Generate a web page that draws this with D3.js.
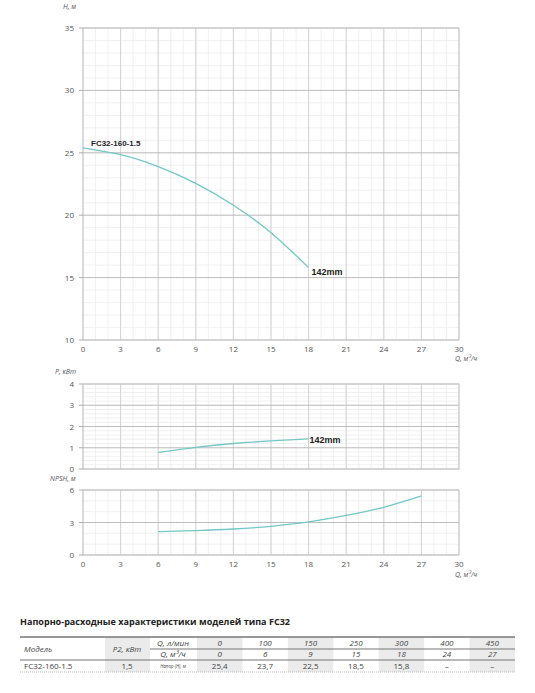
<!DOCTYPE html>
<html lang="ru">
<head>
<meta charset="UTF-8">
<title>FC32-160-1.5</title>
<script src="https://d3js.org/d3.v7.min.js"></script>
<style>
  body { margin: 0; background: #fff; }
  svg { display: block; font-family: "Open Sans", sans-serif; }
  .tick-lbl { font-size: 8px; fill: #555; }
  .ax-title { font-size: 7px; font-style: italic; fill: #555; }
  .tag { font-family: "Liberation Sans", Arial, sans-serif; font-weight: bold; font-size: 9px; fill: #222; }
  .tbl { font-size: 8px; fill: #444; }
</style>
</head>
<body>
<div id="chart"></div>
<script>
// --- data ---
const qTicks = [0, 3, 6, 9, 12, 15, 18, 21, 24, 27, 30];

const headQ = [0, 3, 6, 9, 12, 15, 18];
const headH = [25.4, 24.85, 23.9, 22.55, 20.8, 18.6, 15.8];

const powerQ = [6, 9, 12, 15, 18];
const powerP = [0.78, 1.02, 1.2, 1.32, 1.42];

const npshQ = [6, 9, 12, 15, 18, 21, 24, 27];
const npshV = [2.15, 2.25, 2.4, 2.65, 3.05, 3.65, 4.4, 5.45];

const tableQlmin = ["0", "100", "150", "250", "300", "400", "450"];
const tableQm3 = ["0", "6", "9", "15", "18", "24", "27"];
const tableHead = ["25,4", "23,7", "22,5", "18,5", "15,8", "–", "–"];

const W = 535, H = 693;
const curveColor = "#74c7c7";

const svg = d3.select("#chart").append("svg")
  .attr("width", W).attr("height", H);

const x = d3.scaleLinear().domain([0, 30]).range([83, 459]);

// draws one panel: grid, border, y ticks
function panel(y, yMajor, yMinorStep, showX) {
  const g = svg.append("g");
  const [y0, y1] = y.domain();
  const top = y(y1), bottom = y(y0);
  // minor grid
  d3.range(0, 30.001, 1).forEach(v => {
    g.append("line").attr("x1", x(v)).attr("x2", x(v)).attr("y1", top).attr("y2", bottom)
      .attr("stroke", "#ececec").attr("stroke-width", 0.8);
  });
  d3.range(y0, y1 + 1e-6, yMinorStep).forEach(v => {
    g.append("line").attr("x1", x(0)).attr("x2", x(30)).attr("y1", y(v)).attr("y2", y(v))
      .attr("stroke", "#ececec").attr("stroke-width", 0.8);
  });
  // major grid
  qTicks.forEach(v => {
    g.append("line").attr("x1", x(v)).attr("x2", x(v)).attr("y1", top).attr("y2", bottom)
      .attr("stroke", "#cfcfcf").attr("stroke-width", 0.9);
  });
  yMajor.forEach(v => {
    g.append("line").attr("x1", x(0)).attr("x2", x(30)).attr("y1", y(v)).attr("y2", y(v))
      .attr("stroke", "#b8b8b8").attr("stroke-width", 0.9);
  });
  g.append("rect").attr("x", x(0)).attr("y", top).attr("width", x(30) - x(0)).attr("height", bottom - top)
    .attr("fill", "none").attr("stroke", "#cccccc").attr("stroke-width", 0.9);
  // y ticks
  yMajor.forEach(v => {
    g.append("line").attr("x1", x(0) - 4).attr("x2", x(0)).attr("y1", y(v)).attr("y2", y(v))
      .attr("stroke", "#999").attr("stroke-width", 0.8);
    g.append("text").attr("class", "tick-lbl").attr("x", x(0) - 9).attr("y", y(v) + 3)
      .attr("text-anchor", "end").text(v);
  });
  if (showX) {
    qTicks.forEach(v => {
      g.append("text").attr("class", "tick-lbl").attr("x", x(v)).attr("y", bottom + 12)
        .attr("text-anchor", "middle").text(v);
    });
  }
  return g;
}

function drawCurve(y, qs, vs) {
  const line = d3.line().x(d => x(d[0])).y(d => y(d[1])).curve(d3.curveNatural);
  svg.append("path").attr("d", line(d3.zip(qs, vs)))
    .attr("fill", "none").attr("stroke", curveColor).attr("stroke-width", 1.3);
}

// --- head chart ---
const yH = d3.scaleLinear().domain([10, 35]).range([340, 28]);
panel(yH, [10, 15, 20, 25, 30, 35], 1, true);
drawCurve(yH, headQ, headH);
svg.append("text").attr("class", "ax-title").attr("x", 63).attr("y", 9).text("H, м");
svg.append("text").attr("class", "ax-title").attr("x", 455).attr("y", 361).text("Q, м³/ч");
svg.append("text").attr("class", "tag").attr("x", 91).attr("y", 146).style("font-size", "8px")
  .text("FC32-160-1.5");
svg.append("text").attr("class", "tag").attr("x", x(18) + 3).attr("y", yH(15.8) + 7).text("142mm");

// --- power chart ---
const yP = d3.scaleLinear().domain([0, 4]).range([469, 384]);
panel(yP, [0, 1, 2, 3, 4], 0.2, false);
drawCurve(yP, powerQ, powerP);
svg.append("text").attr("class", "ax-title").attr("x", 55).attr("y", 374).text("P, кВт");
svg.append("text").attr("class", "tag").attr("x", x(18) + 1).attr("y", yP(1.42) + 4).text("142mm");

// --- NPSH chart ---
const yN = d3.scaleLinear().domain([0, 6]).range([555, 490]);
panel(yN, [0, 3, 6], 1, true);
drawCurve(yN, npshQ, npshV);
svg.append("text").attr("class", "ax-title").attr("x", 50).attr("y", 481).text("NPSH, м");
svg.append("text").attr("class", "ax-title").attr("x", 455).attr("y", 577).text("Q, м³/ч");

// --- table ---
svg.append("text").attr("x", 20).attr("y", 625)
  .style("font-weight", "bold").style("font-size", "9.6px").style("fill", "#222")
  .attr("textLength", 270).attr("lengthAdjust", "spacingAndGlyphs")
  .text("Напорно-расходные характеристики моделей типа FC32");

const colX = d3.scaleBand().domain(d3.range(tableQm3.length)).range([197, 515]);
const rowTop = 637, r1 = 649, r2 = 660, rowBot = 672;
const tg = svg.append("g");

// shaded columns
tg.append("rect").attr("x", 105).attr("y", rowTop).attr("width", 45).attr("height", rowBot - rowTop).attr("fill", "#ebebeb");
tableQm3.forEach((d, i) => {
  if (i % 2 === 0) {
    tg.append("rect").attr("x", colX(i)).attr("y", rowTop).attr("width", colX.bandwidth())
      .attr("height", rowBot - rowTop).attr("fill", "#ebebeb");
  }
});
// lines
tg.append("line").attr("x1", 20).attr("x2", 515).attr("y1", rowTop).attr("y2", rowTop).attr("stroke", "#777").attr("stroke-width", 1.6);
tg.append("line").attr("x1", 150).attr("x2", 515).attr("y1", r1).attr("y2", r1).attr("stroke", "#777").attr("stroke-width", 1.2);
tg.append("line").attr("x1", 20).attr("x2", 515).attr("y1", r2).attr("y2", r2).attr("stroke", "#777").attr("stroke-width", 1.2);
tg.append("line").attr("x1", 20).attr("x2", 515).attr("y1", rowBot).attr("y2", rowBot).attr("stroke", "#aaa").attr("stroke-width", 0.8).attr("stroke-dasharray", "1,1");

tg.append("text").attr("class", "tbl").attr("x", 24).attr("y", 652).style("font-style", "italic").text("Модель");
tg.append("text").attr("class", "tbl").attr("x", 127).attr("y", 652).attr("text-anchor", "middle").style("font-style", "italic").text("P2, кВт");
tg.append("text").attr("class", "tbl").attr("x", 173).attr("y", 646).attr("text-anchor", "middle").style("font-style", "italic").text("Q, л/мин");
tg.append("text").attr("class", "tbl").attr("x", 173).attr("y", 657).attr("text-anchor", "middle").style("font-style", "italic").text("Q, м³/ч");
tg.append("text").attr("class", "tbl").attr("x", 173).attr("y", 668).attr("text-anchor", "middle").style("font-style", "italic").style("font-size", "4.5px").text("Напор (Н), м");
tg.append("text").attr("class", "tbl").attr("x", 24).attr("y", 669).text("FC32-160-1.5");
tg.append("text").attr("class", "tbl").attr("x", 127).attr("y", 669).attr("text-anchor", "middle").text("1,5");

tableQlmin.forEach((d, i) => {
  const cx = colX(i) + colX.bandwidth() / 2;
  tg.append("text").attr("class", "tbl").attr("x", cx).attr("y", 646).attr("text-anchor", "middle").style("font-style", "italic").text(d);
  tg.append("text").attr("class", "tbl").attr("x", cx).attr("y", 657).attr("text-anchor", "middle").style("font-style", "italic").text(tableQm3[i]);
  tg.append("text").attr("class", "tbl").attr("x", cx).attr("y", 669).attr("text-anchor", "middle").text(tableHead[i]);
});
</script>
</body>
</html>
